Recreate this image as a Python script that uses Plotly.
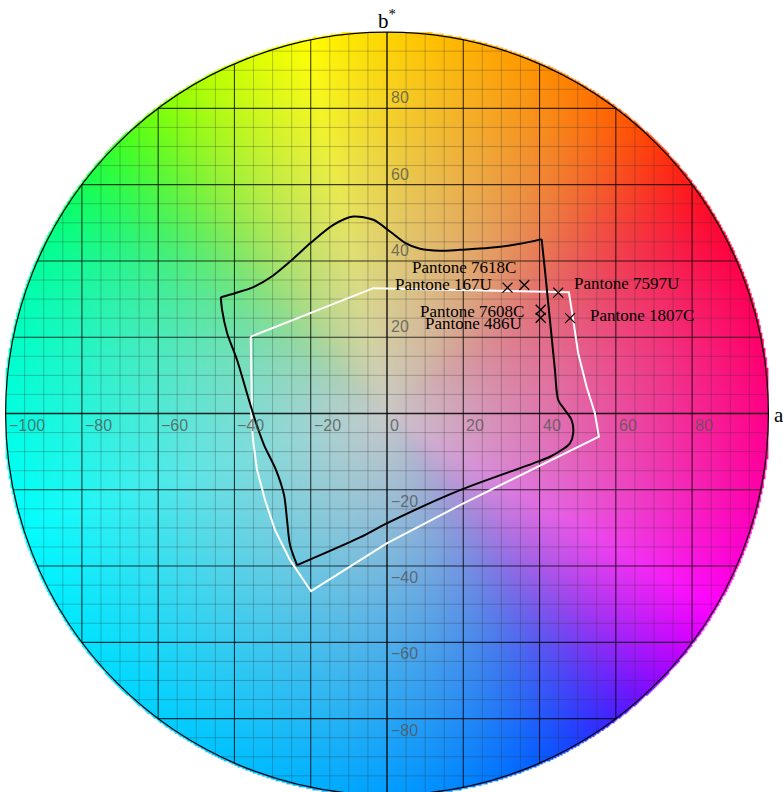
import numpy as np
import zlib, struct, base64
import plotly.graph_objects as go

# ---------------- data ----------------
black_a = [-43.58, -39.83, -35.04, -30.21, -25.42, -19.92, -14.07, -8.83, -3.59, 0.79,
           4.72, 8.65, 13.89, 19.13, 26.99, 34.85, 40.54,
           41.40, 42.27, 43.16, 44.03, 44.89, 46.65, 48.40, 48.82, 47.96, 45.78, 42.71,
           38.34, 19.13, -0.08, -7.08, -23.58,
           -25.42, -26.21, -26.99, -29.09, -32.23, -34.59, -36.43, -39.31, -41.93, -43.24]
black_b = [30.50, 31.55, 33.12, 35.91, 39.84, 44.83, 49.48, 51.65, 50.79, 47.72,
           44.75, 43.18, 42.65, 42.91, 43.44, 44.49, 45.72,
           37.66, 28.92, 20.16, 11.42, 3.54, 0.92, -1.71, -5.20, -7.82, -9.58, -11.34,
           -13.07, -20.08, -28.82, -32.49, -39.76,
           -34.51, -27.95, -21.39, -14.83, -8.27, -1.71, 4.33, 14.04, 21.13, 27.17]

white_a = [-35.72, -3.59, 3.41, 47.69, 48.82, 50.13, 52.33, 54.51, 55.56, 19.13, -0.08,
           -7.08, -19.92, -25.42, -29.35, -31.97, -34.07, -35.12, -35.64, -35.46, -35.72]
white_b = [20.16, 32.86, 32.68, 31.81, 24.54, 15.80, 7.03, 0.05, -6.09, -24.02, -34.07,
           -38.45, -46.59, -38.45, -30.58, -22.70, -14.83, -6.96, 0.92, 3.54, 20.16]

pantone_names = ["Pantone 7618C", "Pantone 167U", "Pantone 7597U",
                 "Pantone 7608C", "Pantone 486U", "Pantone 1807C"]
pantone_a = [36.0, 31.6, 44.9, 40.3, 40.3, 48.0]
pantone_b = [33.7, 33.0, 31.7, 27.2, 25.1, 25.0]

x_tick_vals = [-100, -80, -60, -40, -20, 0, 20, 40, 60, 80]
y_tick_vals = [80, 60, 40, 20, -20, -40, -60, -80]

# ---------------- styles ----------------
label_style = {  # xanchor, xshift, yshift (pixels)
    "Pantone 7618C": ("right", -6, 17),
    "Pantone 167U": ("right", -14, 3),
    "Pantone 7597U": ("left", 14, 9),
    "Pantone 7608C": ("right", -15, -2),
    "Pantone 486U": ("right", -17, -6),
    "Pantone 1807C": ("left", 18, 3),
}
SERIF = "Liberation Serif"
SANS = "Liberation Sans"
TICK_COLOR = "rgba(85,85,85,0.8)"

# ---------------- colour field ----------------
def srgb_to_lab(rgb):
    lin = np.where(rgb <= 0.04045, rgb / 12.92, ((rgb + 0.055) / 1.055) ** 2.4)
    M = np.array([[0.4124, 0.3576, 0.1805], [0.2126, 0.7152, 0.0722], [0.0193, 0.1192, 0.9505]])
    xyz = lin @ M.T / np.array([0.95047, 1.0, 1.08883])
    f = np.where(xyz > (6 / 29) ** 3, np.cbrt(xyz), xyz / (3 * (6 / 29) ** 2) + 4 / 29)
    return 116 * f[:, 1] - 16, 500 * (f[:, 0] - f[:, 1]), 200 * (f[:, 1] - f[:, 2])

t = np.linspace(0, 1, 300)
z = np.zeros_like(t)
o = np.ones_like(t)
edges = [np.c_[o, t, z], np.c_[1 - t, o, z], np.c_[z, o, t],
         np.c_[z, 1 - t, o], np.c_[t, z, o], np.c_[o, z, 1 - t]]
cusp = np.vstack(edges)
_, ca, cb = srgb_to_lab(cusp)
ch = np.degrees(np.arctan2(cb, ca)) % 360
order = np.argsort(ch)
ch = ch[order]
cusp = cusp[order]

# resample the rim colours on a uniform hue grid and smooth them circularly
hg = np.arange(360.0)
rim_tab = np.stack([np.interp(hg, ch, cusp[:, k], period=360) for k in range(3)], axis=-1)
sig = 9.0
kx = np.arange(-40, 41)
kern = np.exp(-0.5 * (kx / sig) ** 2)
kern /= kern.sum()
rim_s = np.zeros_like(rim_tab)
for k in range(3):
    ext = np.concatenate([rim_tab[-40:, k], rim_tab[:, k], rim_tab[:40, k]])
    rim_s[:, k] = np.convolve(ext, kern, mode="valid")
rim_s = np.clip(rim_s / np.maximum(rim_s.max(axis=1, keepdims=True), 1e-6), 0, 1)

N = 500
coords = -100 + (np.arange(N) + 0.5) * 200 / N
A, B = np.meshgrid(coords, coords[::-1])
R = np.hypot(A, B) / 100
H = np.degrees(np.arctan2(B, A)) % 360
hg_ext = np.append(hg, 360.0)
rim = np.stack([np.interp(H, hg_ext, np.append(rim_s[:, k], rim_s[0, k])) for k in range(3)], axis=-1)
Rc = np.clip(R, 0, 1)[..., None]
gray = 200 / 255
rgb = gray * (1 - Rc) + rim * Rc
img = np.zeros((N, N, 4), dtype=np.uint8)
img[..., :3] = np.clip(rgb * 255 + 0.5, 0, 255).astype(np.uint8)
img[..., 3] = np.where(R <= 1.005, 255, 0).astype(np.uint8)

def png_bytes(arr):
    h, w, _ = arr.shape
    raw = b"".join(b"\x00" + arr[y].tobytes() for y in range(h))
    def chunk(tag, data):
        return struct.pack(">I", len(data)) + tag + data + struct.pack(">I", zlib.crc32(tag + data) & 0xffffffff)
    ihdr = struct.pack(">IIBBBBB", w, h, 8, 6, 0, 0, 0)
    return b"\x89PNG\r\n\x1a\n" + chunk(b"IHDR", ihdr) + chunk(b"IDAT", zlib.compress(raw, 9)) + chunk(b"IEND", b"")

src = "data:image/png;base64," + base64.b64encode(png_bytes(img)).decode()

# ---------------- figure ----------------
fig = go.Figure()

def grid_xy(vals):
    xs, ys = [], []
    for v in vals:
        h = np.sqrt(max(100 ** 2 - v ** 2, 0))
        xs += [v, v, None, -h, h, None]
        ys += [-h, h, None, v, v, None]
    return xs, ys

minor = [v for v in range(-95, 100, 5) if v % 20 != 0]
major = [v for v in range(-80, 100, 20) if v != 0]
for vals, col, w in [(minor, "rgba(50,50,50,0.28)", 1), (major, "rgba(0,0,0,0.75)", 1.1),
                     ([0], "rgba(0,0,0,0.85)", 1.5)]:
    gx, gy = grid_xy(vals)
    fig.add_trace(go.Scatter(x=gx, y=gy, mode="lines", line=dict(color=col, width=w),
                             hoverinfo="skip", showlegend=False))

# white gamut
fig.add_trace(go.Scatter(x=white_a, y=white_b, mode="lines",
                         line=dict(color="white", width=2), showlegend=False))

# black gamut: three smooth segments between corners
corners = [0, 16, 32, len(black_a)]
for i in range(3):
    s, e = corners[i], corners[i + 1]
    xs = black_a[s:e + 1] if e < len(black_a) else black_a[s:] + black_a[:1]
    ys = black_b[s:e + 1] if e < len(black_b) else black_b[s:] + black_b[:1]
    fig.add_trace(go.Scatter(x=xs, y=ys, mode="lines",
                             line=dict(color="black", width=2, shape="spline", smoothing=0.8),
                             showlegend=False))

fig.add_trace(go.Scatter(x=pantone_a, y=pantone_b, mode="markers",
                         marker=dict(symbol="x-thin", size=10, color="black",
                                     line=dict(color="black", width=1.3)),
                         showlegend=False))

ann = []
for name, a, b in zip(pantone_names, pantone_a, pantone_b):
    xa, xs_, ys_ = label_style[name]
    ann.append(dict(x=a, y=b, xref="x", yref="y", text=name, showarrow=False,
                    xanchor=xa, yanchor="middle", xshift=xs_, yshift=ys_,
                    font=dict(family=SERIF, size=17, color="black")))

for v in x_tick_vals:
    ann.append(dict(x=v, y=0, xref="x", yref="y", text=str(v).replace("-", "\u2212"),
                    showarrow=False, xanchor="left", yanchor="top", xshift=1, yshift=-1,
                    font=dict(family=SANS, size=16, color=TICK_COLOR)))
for v in y_tick_vals:
    ann.append(dict(x=0, y=v, xref="x", yref="y", text=str(v).replace("-", "\u2212"),
                    showarrow=False, xanchor="left", yanchor="bottom" if v > 0 else "top",
                    xshift=2, yshift=0 if v > 0 else -1,
                    font=dict(family=SANS, size=16, color=TICK_COLOR)))

ann.append(dict(x=0, y=103.3, xref="x", yref="y", text="b<sup>*</sup>", showarrow=False,
                xanchor="center", yanchor="middle",
                font=dict(family=SERIF, size=21, color="black")))
ann.append(dict(x=101.0, y=0, xref="x", yref="y", text="a<sup>*</sup>", showarrow=False,
                xanchor="left", yanchor="middle",
                font=dict(family=SERIF, size=21, color="black")))

S = 3.814
fig.update_layout(
    width=783, height=792, margin=dict(l=0, r=0, t=0, b=0),
    paper_bgcolor="white", plot_bgcolor="white",
    xaxis=dict(range=[-387 / S, (783 - 387) / S], visible=False, fixedrange=True),
    yaxis=dict(range=[-(792 - 413.5) / S, 413.5 / S], visible=False, fixedrange=True),
    images=[dict(source=src, xref="x", yref="y", x=-100, y=100, sizex=200, sizey=200,
                 sizing="stretch", layer="below")],
    shapes=[dict(type="circle", xref="x", yref="y", x0=-100, y0=-100, x1=100, y1=100,
                 line=dict(color="black", width=1.2))],
    annotations=ann,
)

fig.write_html("out.html")
